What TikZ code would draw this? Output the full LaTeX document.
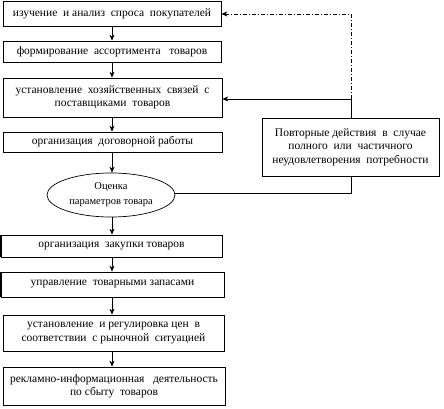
\documentclass[tikz,border=0pt]{standalone}
\usepackage{fontspec}
\setmainfont{Liberation Serif}
\usetikzlibrary{arrows.meta,shapes.geometric}
\begin{document}
\begin{tikzpicture}[x=1pt,y=-1pt,
  box/.style={draw,line width=0.7pt,rectangle,inner sep=0pt,align=center,font=\fontsize{11.5}{13.5}\selectfont},
  oval/.style={draw,line width=0.7pt,ellipse,inner sep=0pt,align=center,font=\fontsize{10.5}{15}\selectfont},
  arr/.style={line width=0.7pt,-{Stealth[length=6pt,width=5pt]}},
  ln/.style={line width=0.7pt}]
\useasboundingbox (0,0) rectangle (444,409);
\node[box,minimum width=218pt,minimum height=25pt] (b1) at (112,13.5) {изучение\ \ и анализ\ \ спроса\ \ покупателей};
\node[box,minimum width=218pt,minimum height=21pt] (b2) at (112,51.5) {формирование\ \ ассортимента\ \ \ товаров};
\node[box,minimum width=219pt,minimum height=39pt] (b3) at (112.5,97.5) {установление\ \ хозяйственных\ \ связей\ \ с\\поставщиками\ \ товаров};
\node[box,minimum width=219pt,minimum height=20pt] (b4) at (112.5,142) {организация\ \ договорной работы};
\node[oval,minimum width=128pt,minimum height=44pt] (e) at (111,195) {Оценка\\параметров товара};
\node[box,minimum width=221pt,minimum height=22pt] (b5) at (111.5,246) {организация\ \ закупки товаров};
\node[box,minimum width=223pt,minimum height=25pt] (b6) at (112.5,284.5) {управление\ \ товарными запасами};
\node[box,minimum width=221pt,minimum height=36pt] (b7) at (113.5,333) {установление\ \ и регулировка цен\ \ в\\соответствии\ \ с рыночной\ \ ситуацией};
\node[box,minimum width=222pt,minimum height=38pt] (b8) at (114,386) {рекламно-информационная\ \ \ деятельность\\по сбыту\ \ товаров};
\node[box,minimum width=177pt,minimum height=58pt] (r) at (350.5,147) {Повторные действия\ \ в\ \ случае\\полного\ \ или\ \ частичного\\неудовлетворения\ \ потребности};
\draw[line width=1.6pt] (b5.south west) -- (b5.north west);
\draw[line width=1.6pt] (b6.south west) -- (b6.north west);
\coordinate (x1) at (112,0);
\draw[arr] (b1.south -| x1) -- (b2.north -| x1);
\draw[arr] (b2.south -| x1) -- (b3.north -| x1);
\draw[arr] (b3.south -| x1) -- (b4.north -| x1);
\draw[arr] (b4.south -| x1) -- (e.north -| x1);
\draw[arr] (e.south -| x1) -- (b5.north -| x1);
\draw[arr] (b5.south -| x1) -- (b6.north -| x1);
\draw[arr] (b6.south -| x1) -- (b7.north -| x1);
\draw[arr] (b7.south -| x1) -- (b8.north -| x1);
\coordinate (c1) at (351,193);
\draw[ln] (e.east |- c1) -- (c1) -- (c1 |- r.south);
\coordinate (c2) at (351,99);
\coordinate (c3) at (351,14);
\draw[arr] (r.north -| c2) -- (c2) -- (b3.east |- c2);
\draw[arr,dash pattern=on 4pt off 2pt on 1pt off 2pt] (c2) -- (c3) -- (b1.east |- c3);
\end{tikzpicture}
\end{document}
